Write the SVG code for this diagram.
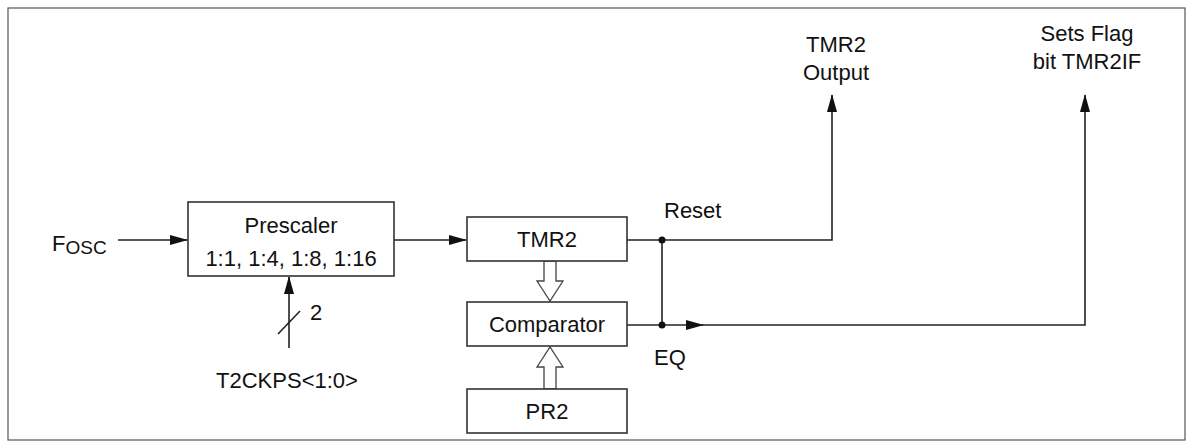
<svg xmlns="http://www.w3.org/2000/svg" width="1193" height="448" viewBox="0 0 1193 448">
<style>
text{font-family:"Liberation Sans",Arial,sans-serif;font-size:22px;fill:#111}
.b{fill:#fff;stroke:#333;stroke-width:1.6}
.l{fill:none;stroke:#222;stroke-width:1.6}
.h{fill:#fff;stroke:#444;stroke-width:1.3}
</style>
<defs><marker id="a" markerWidth="18" markerHeight="10" refX="17" refY="5" orient="auto" markerUnits="userSpaceOnUse"><path d="M0,0L18,5L0,10z" fill="#111"/></marker></defs>
<rect x="8" y="8" width="1177" height="432" fill="#fff" stroke="#555" stroke-width="1.2"/>
<g id="connectors">
<line class="l" x1="118" y1="240" x2="187" y2="240" marker-end="url(#a)"/>
<line class="l" x1="394" y1="240" x2="466" y2="240" marker-end="url(#a)"/>
<line class="l" x1="289" y1="348" x2="289" y2="277" marker-end="url(#a)"/>
<line class="l" x1="278" y1="334" x2="300" y2="311"/>
<polyline class="l" points="627,240 832,240 832,95" marker-end="url(#a)"/>
<line class="l" x1="662" y1="240" x2="662" y2="325"/>
<line class="l" x1="627" y1="325" x2="703" y2="325" marker-end="url(#a)"/>
<polyline class="l" points="700,325 1085,325 1085,95" marker-end="url(#a)"/>
<circle cx="662" cy="240" r="3.5" fill="#111"/>
<circle cx="662" cy="325" r="3.5" fill="#111"/>
<path class="h" d="M544,261V281H537L550,301L563,281H556V261z"/>
<path class="h" d="M544,389V367H537L550,347L563,367H556V389z"/>
</g>
<g id="fosc"><text x="52" y="251" font-size="25">F<tspan font-size="19" dy="3">OSC</tspan></text></g>
<g id="prescaler"><rect class="b" x="188" y="202" width="206" height="74"/><text x="291" y="233" text-anchor="middle">Prescaler</text><text x="291" y="266" text-anchor="middle" font-size="23">1:1, 1:4, 1:8, 1:16</text></g>
<g id="tmr2"><rect class="b" x="467" y="217" width="160" height="44"/><text x="547" y="247" text-anchor="middle">TMR2</text></g>
<g id="comparator"><rect class="b" x="467" y="302" width="160" height="44"/><text x="547" y="332" text-anchor="middle">Comparator</text></g>
<g id="pr2"><rect class="b" x="467" y="389" width="160" height="44"/><text x="547" y="419" text-anchor="middle">PR2</text></g>
<text x="310" y="320">2</text>
<text x="287" y="388" text-anchor="middle">T2CKPS&lt;1:0&gt;</text>
<text x="664" y="218">Reset</text>
<text x="654" y="365">EQ</text>
<text x="836" y="52" text-anchor="middle">TMR2</text>
<text x="836" y="80" text-anchor="middle">Output</text>
<text x="1087" y="41" text-anchor="middle">Sets Flag</text>
<text x="1087" y="69" text-anchor="middle">bit TMR2IF</text>
</svg>
